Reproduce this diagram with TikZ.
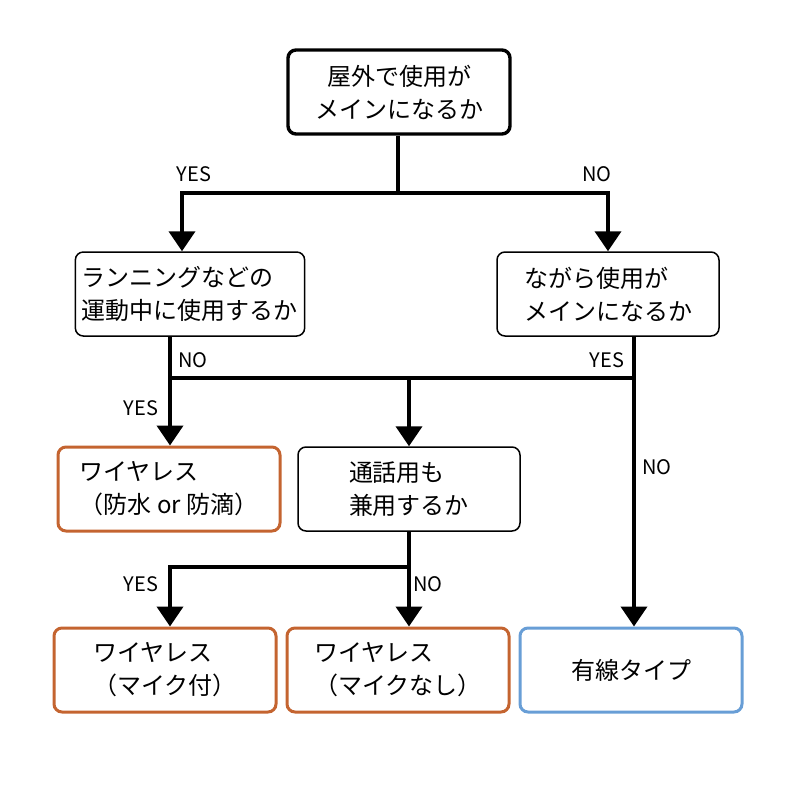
\documentclass[tikz,border=0pt]{standalone}
\usepackage{fontspec}
\setmainfont{Noto Sans CJK JP}
\usetikzlibrary{arrows.meta}
\definecolor{wirelessline}{RGB}{196,100,48}
\definecolor{wiredline}{RGB}{104,158,214}
\begin{document}
\begin{tikzpicture}[x=0.5pt, y=-0.5pt,
    block/.style={rectangle, draw, fill=white, align=left, rounded corners=4pt, minimum width=111pt, minimum height=42pt, line width=0.75pt, font=\fontsize{12}{16.5}\selectfont},
    start/.style={block, align=center, line width=1.7pt},
    wireless/.style={block, draw=wirelessline, line width=1.5pt},
    wired/.style={block, draw=wiredline, line width=1.5pt},
    branch/.style={draw, line width=2pt},
    line/.style={draw, line width=2pt, -{Triangle[width=13pt,length=10pt]}},
    answer/.style={font=\fontsize{10}{12}\selectfont, inner sep=0pt}]
    \useasboundingbox (0,0) rectangle (800,800);

    \node [start] (outdoor) at (399,92) {屋外で使用が\\メインになるか};
    \node [block] (running) at (190,294) {ランニングなどの\\運動中に使用するか};
    \node [block] (nagara) at (608,294) {ながら使用が\\メインになるか};
    \node [wireless] (wproof) at (169,489) {ワイヤレス\\（防水 or 防滴）};
    \node [block] (call) at (409,489) {通話用も\\兼用するか};
    \node [wireless] (wmic) at (165,670) {ワイヤレス\\（マイク付）};
    \node [wireless] (wnomic) at (398,670) {ワイヤレス\\（マイクなし）};
    \node [wired] (wired) at (631,670) {有線タイプ};

    % first split
    \coordinate (fork1) at (398,193);
    \coordinate (fork1L) at (182,193);
    \coordinate (fork1R) at (608,193);
    \path [branch] (outdoor.south -| fork1) -- (fork1);
    \path [line] (fork1) -- (fork1L) -- (fork1L |- running.north);
    \path [line] (fork1) -- (fork1R) -- (fork1R |- nagara.north);

    % second split
    \coordinate (fork2) at (409,378);
    \coordinate (fork2L) at (170,378);
    \coordinate (fork2R) at (634,378);
    \path [branch] (fork2L) -- (fork2R);
    \path [line] (running.south -| fork2L) -- (fork2L |- wproof.north);
    \path [line] (nagara.south -| fork2R) -- (fork2R |- wired.north);
    \path [line] (fork2) -- (fork2 |- call.north);

    % third split
    \coordinate (fork3) at (409,567);
    \coordinate (fork3L) at (170,567);
    \path [line] (call.south -| fork3) -- (fork3 |- wnomic.north);
    \path [line] (fork3) -- (fork3L) -- (fork3L |- wmic.north);

    \node [answer] (yes1) at (194,174) {YES};
    \node [answer] (no1) at (597,174) {NO};
    \node [answer] (no2) at (193,360) {NO};
    \node [answer] (yes2) at (607,360) {YES};
    \node [answer] (yes3) at (141,408) {YES};
    \node [answer] (no3) at (657,467) {NO};
    \node [answer] (yes4) at (141,584) {YES};
    \node [answer] (no4) at (428,584) {NO};
\end{tikzpicture}
\end{document}
